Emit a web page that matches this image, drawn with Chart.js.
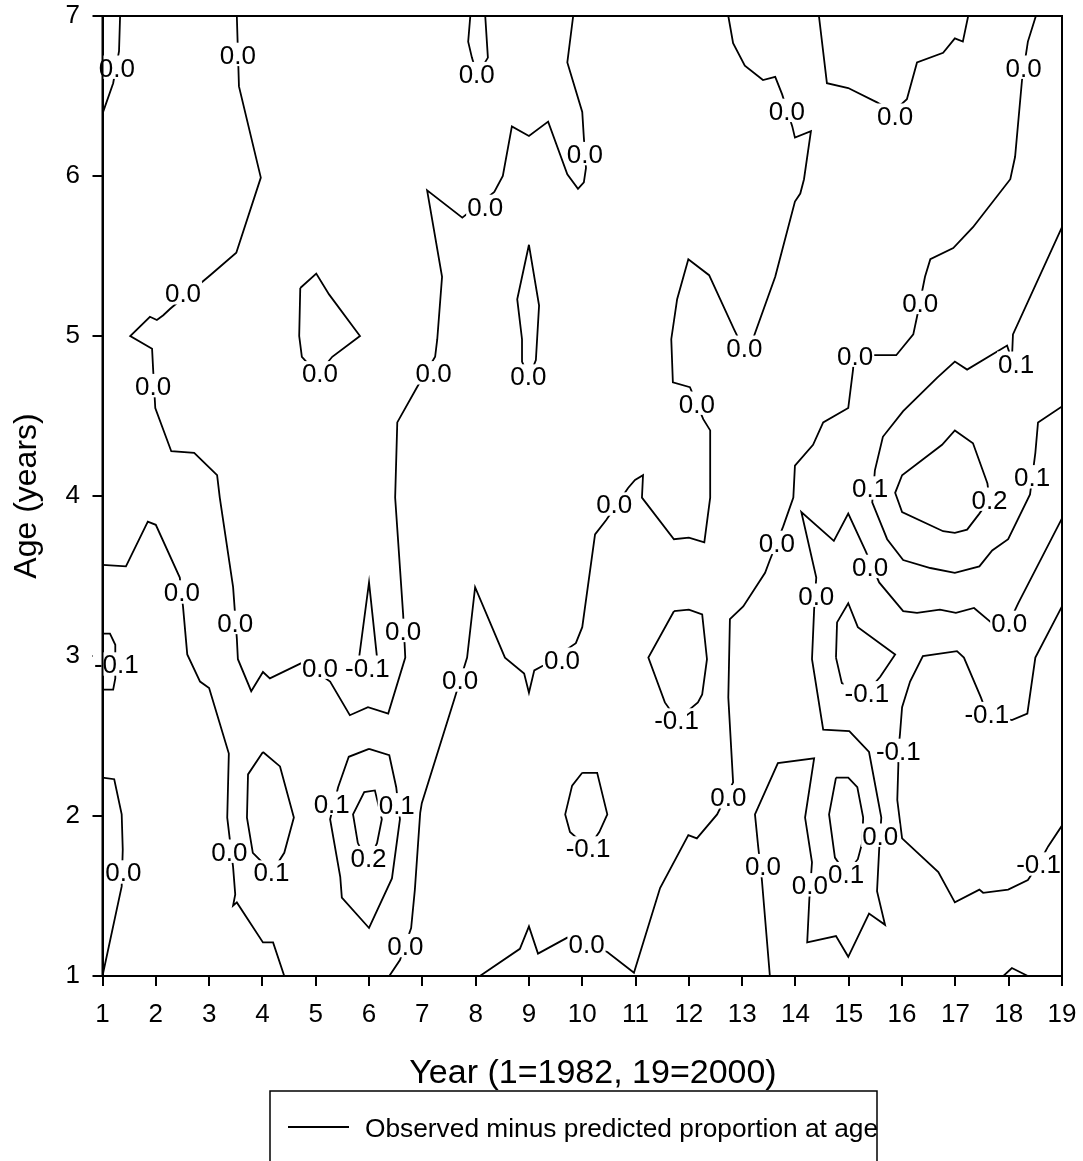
<!DOCTYPE html>
<html><head><meta charset="utf-8">
<script src="https://cdn.jsdelivr.net/npm/chart.js@4"></script>
<style>html,body{margin:0;padding:0;background:#fff}canvas{display:block}</style>
</head><body>
<canvas id="c" width="1083" height="1161"></canvas>
<script>
// Axis ticks
const xTickValues = [1,2,3,4,5,6,7,8,9,10,11,12,13,14,15,16,17,18,19];
const yTickValues = [1,2,3,4,5,6,7];
const xTitle = 'Year (1=1982, 19=2000)';
const yTitle = 'Age (years)';
const seriesName = 'Observed minus predicted proportion at age';

// Contour lines: [year, age] vertices
const contourA = [[1.33,7],[1.31,6.78],[1.20,6.58],[1.00,6.39]];
const contourB = [[3.52,7],[3.56,6.56],[3.97,5.99],[3.51,5.52],[3.02,5.38],[2.27,5.17],[2.14,5.13],[2.02,5.10],[1.89,5.12],[1.52,5.00],[1.93,4.92],[1.95,4.79],[1.99,4.55],[2.29,4.28],[2.72,4.27],[3.15,4.13],[3.20,3.99],[3.45,3.43],[3.52,3.11],[3.54,2.98],[3.79,2.78],[4.01,2.90],[4.14,2.86],[4.76,2.96],[5.27,2.84],[5.64,2.63],[5.98,2.68],[6.36,2.64],[6.68,2.99],[6.64,3.26],[6.49,3.99],[6.53,4.46],[6.90,4.68],[7.24,4.87],[7.28,4.98],[7.37,5.37],[7.09,5.91],[7.75,5.74],[8.35,5.90],[8.51,6.00],[8.68,6.31],[9.00,6.25],[9.36,6.34],[9.72,6.01],[9.92,5.92],[10.03,5.96],[10.07,6.05],[10.03,6.24],[10.00,6.40],[9.72,6.71],[9.83,7]];
const contourC = [[1.00,3.57],[1.44,3.56],[1.85,3.84],[2.00,3.82],[2.45,3.49],[2.51,3.31],[2.59,3.01],[2.83,2.84],[3.00,2.80],[3.37,2.39],[3.34,1.99],[3.45,1.68],[3.49,1.51],[3.45,1.44],[3.52,1.46],[4.01,1.21],[4.20,1.21],[4.41,1.00]];
const contourD = [[1.00,3.14],[1.14,3.14],[1.24,3.07],[1.24,2.86],[1.20,2.79],[1.00,2.79]];
const contourE = [[1.00,2.24],[1.22,2.23],[1.36,2.01],[1.38,1.79],[1.36,1.56],[1.00,1.00]];
const contourF = [[4.01,2.40],[4.33,2.31],[4.59,1.99],[4.41,1.77],[4.18,1.65],[3.82,1.77],[3.71,1.99],[3.73,2.26],[4.01,2.40]];
const contourG = [[6.00,2.42],[6.38,2.38],[6.51,2.18],[6.58,1.98],[6.43,1.61],[6.00,1.30],[5.49,1.49],[5.46,1.62],[5.27,1.98],[5.42,2.18],[5.62,2.37],[6.00,2.42]];
const contourG2 = [[5.79,1.83],[5.70,2.01],[5.91,2.15],[6.11,2.16],[6.24,1.98],[6.15,1.83],[5.98,1.71],[5.79,1.83]];
const contourH = [[5.81,2.98],[6.00,3.46],[6.15,2.99],[5.98,2.90],[5.81,2.98]];
const contourI = [[4.71,5.30],[5.01,5.39],[5.25,5.26],[5.83,5.00],[5.31,4.87],[5.04,4.76],[4.74,4.87],[4.69,5.00],[4.71,5.30]];
const contourJ = [[9.00,5.57],[9.19,5.19],[9.13,4.85],[9.00,4.74],[8.87,4.84],[8.87,4.98],[8.78,5.23],[9.00,5.57]];
const contourK = [[7.90,7],[7.86,6.84],[7.93,6.74],[8.03,6.63],[8.23,6.74],[8.18,7]];
const contourL = [[12.74,7],[12.83,6.83],[13.05,6.69],[13.39,6.60],[13.62,6.62],[13.75,6.51],[13.94,6.31],[13.99,6.24],[14.29,6.28],[14.16,5.98],[14.09,5.89],[13.99,5.84],[13.62,5.37],[13.20,4.98],[13.04,4.91],[12.85,5.04],[12.38,5.38],[11.99,5.48],[11.78,5.23],[11.67,4.98],[11.70,4.71],[12.02,4.68],[12.27,4.48],[12.40,4.41],[12.40,3.99],[12.29,3.71],[12.00,3.74],[11.72,3.73],[11.12,3.99],[11.14,4.13],[10.99,4.10],[10.86,4.05],[10.45,3.85],[10.24,3.76],[10.00,3.18],[9.88,3.08],[9.27,2.94],[9.10,2.91],[9.00,2.77],[8.91,2.89],[8.55,2.99],[7.99,3.43],[7.84,2.99],[7.61,2.74],[6.99,2.08],[6.96,2.02],[6.86,1.54],[6.79,1.30],[6.58,1.10],[6.38,1.00]];
const contourM = [[10.00,2.27],[10.28,2.27],[10.47,2.01],[10.32,1.90],[10.11,1.80],[9.77,1.90],[9.68,2.01],[9.81,2.19],[10.00,2.27]];
const contourN = [[11.72,3.28],[12.00,3.29],[12.25,3.26],[12.34,2.98],[12.25,2.76],[12.17,2.71],[11.78,2.60],[11.55,2.71],[11.24,2.99],[11.72,3.28]];
const contourO = [[8.08,1.00],[8.83,1.17],[9.00,1.31],[9.17,1.14],[9.72,1.24],[10.47,1.15],[10.97,1.02],[11.46,1.55],[11.99,1.88],[12.15,1.86],[12.53,2.01],[12.83,2.21],[12.74,2.74],[12.77,3.23],[13.02,3.31],[13.43,3.52],[13.52,3.60],[13.77,3.81],[13.96,3.99],[13.99,4.19],[14.33,4.32],[14.52,4.46],[14.99,4.55],[15.08,4.79],[15.10,4.88],[15.49,4.88],[15.89,4.88],[16.21,5.01],[16.28,5.12],[16.43,5.37],[16.53,5.48],[16.96,5.55],[17.33,5.68],[18.03,5.98],[18.12,6.12],[18.25,6.60],[18.36,6.84],[18.51,7]];
const contourP = [[14.44,7],[14.59,6.58],[14.99,6.55],[15.53,6.46],[15.83,6.40],[16.09,6.48],[16.28,6.71],[16.77,6.77],[16.99,6.86],[17.14,6.84],[17.24,7]];
const contourQ = [[19.00,5.68],[18.08,5.01],[18.06,4.85],[17.97,4.94],[17.22,4.79],[16.99,4.84],[16.66,4.74],[16.02,4.53],[15.64,4.37],[15.49,4.16],[15.44,3.96],[15.72,3.73],[16.02,3.60],[16.53,3.55],[16.99,3.52],[17.45,3.56],[17.69,3.66],[17.99,3.73],[18.40,4.01],[18.50,4.27],[18.55,4.46],[19.00,4.56]];
const contourR = [[17.60,4.08],[17.33,4.33],[16.99,4.41],[16.75,4.32],[16.00,4.13],[15.87,4.02],[16.00,3.90],[16.77,3.78],[16.99,3.77],[17.22,3.79],[17.45,3.89],[17.64,3.98],[17.60,4.08]];
const contourS = [[19.00,3.86],[18.18,3.33],[18.01,3.21],[17.67,3.21],[17.35,3.30],[17.01,3.27],[16.71,3.29],[16.28,3.27],[16.02,3.28],[15.57,3.46],[15.31,3.66],[14.99,3.89],[14.72,3.72],[14.11,3.90],[14.39,3.49],[14.35,3.29],[14.31,2.98],[14.52,2.54],[15.01,2.53],[15.38,2.40],[15.61,1.99],[15.57,1.79],[15.53,1.53],[15.68,1.32],[15.38,1.39],[14.99,1.12],[14.76,1.25],[14.22,1.21],[14.26,1.48],[14.31,1.71],[14.18,1.99],[14.35,2.36],[13.67,2.33],[13.24,2.01],[13.30,1.81],[13.37,1.60],[13.52,1.00]];
const contourT = [[14.76,2.99],[14.78,3.21],[14.99,3.33],[15.17,3.18],[15.87,3.01],[15.59,2.87],[15.33,2.77],[14.87,2.83],[14.76,2.99]];
const contourU = [[19.00,3.31],[18.50,2.99],[18.35,2.64],[18.06,2.60],[17.59,2.64],[17.48,2.74],[17.16,2.99],[17.03,3.03],[16.39,3.00],[16.15,2.84],[16.00,2.68],[15.96,2.51],[15.93,2.41],[15.93,2.32],[15.91,2.10],[16.00,1.86],[16.68,1.65],[16.99,1.46],[17.45,1.54],[17.52,1.52],[17.99,1.54],[18.36,1.60],[18.56,1.70],[18.74,1.81],[19.00,1.94]];
const contourV = [[14.76,2.24],[14.99,2.24],[15.16,2.18],[15.27,1.99],[15.25,1.83],[15.17,1.73],[14.95,1.64],[14.74,1.74],[14.63,2.01],[14.76,2.24]];
const contourW = [[17.90,1.00],[18.06,1.05],[18.36,1.00]];

// Contour labels: [text, year, age]
const contourLabels = [
  ["0.0",1.27,6.68],["0.0",3.54,6.76],["0.0",2.51,5.27],["0.0",1.95,4.69],
  ["0.0",2.49,3.40],["0.0",3.49,3.21],["-0.1",1.26,2.95],["0.0",1.39,1.65],
  ["0.0",3.38,1.78],["0.1",4.17,1.65],["0.1",5.30,2.08],["0.1",6.52,2.07],
  ["0.2",5.99,1.74],["0.0",5.08,2.93],["-0.1",5.97,2.93],["0.0",6.64,3.16],
  ["0.0",5.08,4.77],["0.0",7.21,4.77],["0.0",8.99,4.75],["0.0",8.18,5.81],
  ["0.0",8.02,6.64],["0.0",10.05,6.14],["0.0",7.71,2.85],["0.0",6.68,1.19],
  ["0.0",9.62,2.98],["0.0",10.60,3.95],["0.0",12.15,4.58],["0.0",13.04,4.93],
  ["0.0",13.84,6.41],["-0.1",10.11,1.80],["-0.1",11.77,2.60],["0.0",10.08,1.20],
  ["0.0",12.74,2.12],["0.0",13.65,3.71],["0.0",15.12,4.88],["0.0",16.34,5.21],
  ["0.0",18.28,6.68],["0.0",15.87,6.38],["0.1",18.14,4.83],["0.1",15.40,4.05],
  ["0.1",18.44,4.12],["0.2",17.64,3.98],["0.0",18.01,3.21],["0.0",15.40,3.56],
  ["0.0",14.39,3.38],["0.0",15.59,1.88],["0.0",14.27,1.57],["0.0",13.39,1.69],
  ["-0.1",15.34,2.77],["-0.1",17.59,2.64],["-0.1",15.93,2.41],["-0.1",18.56,1.70],
  ["0.1",14.95,1.64]
];

const contours = [contourA,contourB,contourC,contourD,contourE,contourF,contourG,contourG2,contourH,contourI,contourJ,contourK,contourL,contourM,contourN,contourO,contourP,contourQ,contourR,contourS,contourT,contourU,contourV,contourW];

const FONT = '"Liberation Sans", Arial, Helvetica, sans-serif';
const LABEL_SIZE = 26;

const labelPlugin = {
  id: 'contourLabels',
  afterDatasetsDraw(chart) {
    const {ctx, scales: {x, y}} = chart;
    ctx.save();
    ctx.font = LABEL_SIZE + 'px ' + FONT;
    ctx.textAlign = 'center';
    ctx.textBaseline = 'alphabetic';
    for (const [t, yr, ag] of contourLabels) {
      const px = x.getPixelForValue(yr), py = y.getPixelForValue(ag);
      const w = ctx.measureText(t).width;
      ctx.fillStyle = '#fff';
      ctx.fillRect(px - w / 2 - 1, py - LABEL_SIZE * 0.45, w + 2, LABEL_SIZE * 0.9);
      ctx.fillStyle = '#000';
      ctx.fillText(t, px, py + LABEL_SIZE * 0.358);
    }
    ctx.restore();
  }
};

const framePlugin = {
  id: 'frameAndLegend',
  afterDraw(chart) {
    const {ctx, chartArea: a} = chart;
    ctx.save();
    ctx.strokeStyle = '#000';
    ctx.lineWidth = 2;
    ctx.strokeRect(a.left, a.top, a.right - a.left, a.bottom - a.top);
    // x axis title
    ctx.fillStyle = '#000';
    ctx.font = '34px ' + FONT;
    ctx.textAlign = 'center';
    ctx.textBaseline = 'alphabetic';
    ctx.fillText(xTitle, 593, 1071 + 34 * 0.358);
    // legend box
    ctx.lineWidth = 1.5;
    ctx.beginPath();
    ctx.moveTo(270, 1175); ctx.lineTo(270, 1091); ctx.lineTo(877, 1091); ctx.lineTo(877, 1175);
    ctx.stroke();
    ctx.lineWidth = 1.8;
    ctx.beginPath();
    ctx.moveTo(288, 1127); ctx.lineTo(349, 1127);
    ctx.stroke();
    ctx.font = '26.3px ' + FONT;
    ctx.textAlign = 'left';
    ctx.fillText(seriesName, 365, 1128 + 26.3 * 0.358);
    ctx.restore();
  }
};

new Chart(document.getElementById('c'), {
  type: 'scatter',
  data: {
    datasets: contours.map((c, i) => ({
      label: i === 0 ? seriesName : '',
      data: c.map(([x, y]) => ({x, y})),
      showLine: true,
      borderColor: '#000',
      borderWidth: 1.8,
      pointRadius: 0,
      pointHoverRadius: 0,
      fill: false,
      tension: 0
    }))
  },
  options: {
    responsive: false,
    animation: false,
    devicePixelRatio: 1,
    layout: {padding: {top: 16, right: 21, left: 0, bottom: 0}},
    plugins: {legend: {display: false}, tooltip: {enabled: false}},
    scales: {
      x: {
        type: 'linear', min: 1, max: 19,
        afterBuildTicks: s => { s.ticks = xTickValues.map(v => ({value: v})); },
        afterFit: s => { s.height = 185; s.paddingLeft = 0; s.paddingRight = 0; },
        ticks: {color: '#000', font: {family: FONT, size: 26}, padding: 13.4, maxRotation: 0, autoSkip: false},
        grid: {display: true, drawOnChartArea: false, drawTicks: true, tickLength: 10, color: '#000', lineWidth: 2},
        border: {display: true, color: '#000', width: 2},
        title: {display: false, text: xTitle}
      },
      y: {
        type: 'linear', min: 1, max: 7,
        afterBuildTicks: s => { s.ticks = yTickValues.map(v => ({value: v})); },
        afterFit: s => { s.width = 102.5; s.paddingTop = 0; s.paddingBottom = 0; },
        ticks: {color: '#000', font: {family: FONT, size: 26}, padding: 12.5, autoSkip: false},
        grid: {display: true, drawOnChartArea: false, drawTicks: true, tickLength: 10, color: '#000', lineWidth: 2},
        border: {display: true, color: '#000', width: 2},
        title: {display: true, text: yTitle, color: '#000', font: {family: FONT, size: 32}, padding: {top: 7.8, bottom: 0}}
      }
    }
  },
  plugins: [labelPlugin, framePlugin]
});
</script>
</body></html>
